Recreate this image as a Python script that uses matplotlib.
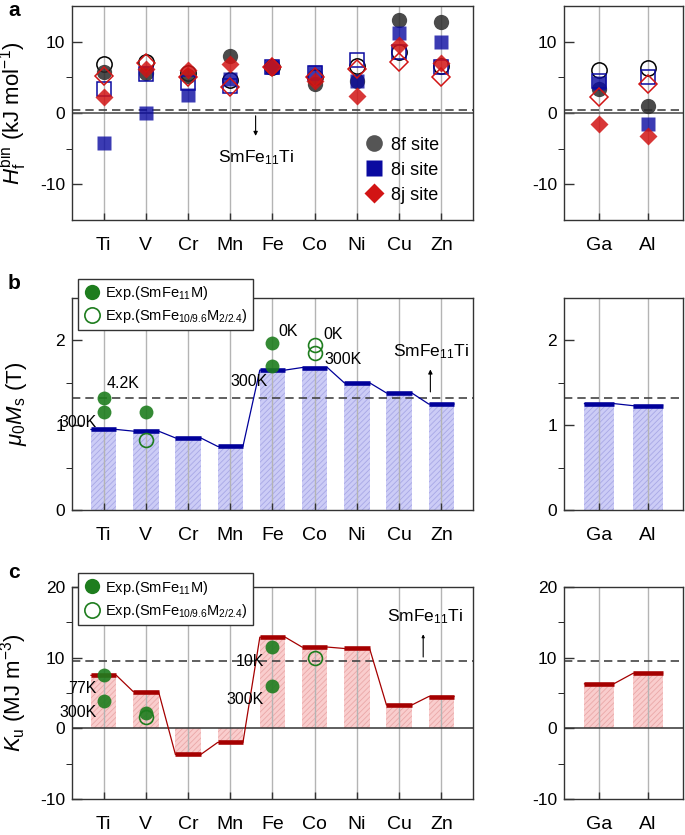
import matplotlib
matplotlib.use("Agg")
import matplotlib.pyplot as plt
import numpy as np
from matplotlib.lines import Line2D

plt.rcParams["font.family"] = ["Liberation Sans", "DejaVu Sans"]
plt.rcParams["mathtext.fontset"] = "custom"
plt.rcParams["mathtext.rm"] = "Liberation Sans"
plt.rcParams["mathtext.it"] = "Liberation Sans:italic"
plt.rcParams["axes.unicode_minus"] = False
plt.rcParams["hatch.linewidth"] = 0.6

# ---- data ----
metals = ["Ti", "V", "Cr", "Mn", "Fe", "Co", "Ni", "Cu", "Zn"]
extra = ["Ga", "Al"]

# formation enthalpy (kJ/mol): filled / open markers per site
h_8f = [5.8, 5.6, 5.2, 8.0, 6.5, 4.0, 4.5, 13.1, 12.7]
h_8i = [-4.2, 0.0, 2.5, 4.7, 6.5, 5.8, 4.5, 11.2, 9.9]
h_8j = [2.3, 6.2, 6.0, 6.9, 6.5, 4.5, 2.4, 9.6, 7.0]
h_8f_open = [6.8, 7.2, 5.6, 4.6, 6.5, 5.0, 6.6, 8.6, 6.6]
h_8i_open = [3.4, 5.4, 4.2, 3.8, 6.5, 5.6, 7.4, 8.5, 6.5]
h_8j_open = [5.2, 7.0, 5.1, 3.7, 6.5, 5.1, 6.1, 7.2, 5.0]
h_8f_x = [3.4, 1.0]
h_8i_x = [4.2, -1.5]
h_8j_x = [-1.5, -3.2]
h_8f_open_x = [6.0, 6.3]
h_8i_open_x = [4.5, 5.0]
h_8j_open_x = [2.3, 4.1]
h_ref = 0.4

# magnetisation (T)
ms = [0.95, 0.93, 0.85, 0.75, 1.65, 1.68, 1.50, 1.38, 1.25]
ms_x = [1.255, 1.23]
ms_ref = 1.325
ms_exp_idx = [0, 0, 1, 4, 4]
ms_exp = [1.32, 1.16, 1.16, 1.97, 1.70]
ms_exp2_idx = [1, 5, 5]
ms_exp2 = [0.82, 1.95, 1.85]

# anisotropy (MJ/m3)
ku = [7.5, 5.2, -3.7, -2.0, 12.9, 11.5, 11.3, 3.3, 4.5]
ku_x = [6.3, 7.8]
ku_ref = 9.5
ku_exp_idx = [0, 0, 1, 4, 4]
ku_exp = [7.5, 3.8, 2.2, 11.5, 6.0]
ku_exp2_idx = [1, 5]
ku_exp2 = [1.6, 10.0]

# ---- styling ----
grey = "#b4b4b4"
c8f, c8i, c8j = "#2b2b2b", "#0a0aa0", "#d21414"
green = "#1e7d1e"

fig = plt.figure(figsize=(6.85, 8.35), dpi=100)
W, H = 685, 835


def make_axes(left_px, top_px, w_px, h_px):
    return fig.add_axes([left_px / W, 1 - (top_px + h_px) / H, w_px / W, h_px / H])


def style(ax, n, ylim, major, minor, labels):
    ax.set_xlim(-0.75, n - 0.25) if n > 2 else ax.set_xlim(-0.72, 1.72)
    ax.set_ylim(*ylim)
    ax.set_xticks(range(n))
    ax.set_xticklabels(labels, fontsize=14)
    ax.set_yticks(major)
    ax.set_yticks(minor, minor=True)
    ax.tick_params(axis="both", direction="in", labelsize=12.5, width=1, color="#333333")
    ax.tick_params(axis="x", length=5, pad=12, labelsize=14)
    ax.tick_params(axis="y", which="major", length=7, pad=5)
    ax.tick_params(axis="y", which="minor", length=4)
    for s in ax.spines.values():
        s.set_color("#333333")
        s.set_linewidth(1)
    for i in range(n):
        ax.axvline(i, color=grey, lw=1, zorder=1.5)


def bars(ax, vals, face, hatch_c, cap_c, cap_lw):
    x = np.arange(len(vals))
    ax.bar(x, vals, width=0.6, color=face, edgecolor=hatch_c, linewidth=0,
           hatch="//////", zorder=1)
    ax.hlines(vals, x - 0.3, x + 0.3, color=cap_c, lw=cap_lw, zorder=3)
    xs = np.ravel(np.column_stack([x - 0.3, x + 0.3]))
    ys = np.repeat(vals, 2)
    ax.plot(xs, ys, color=cap_c, lw=0.9, zorder=2.5)


# ---------- panel a ----------
axa = make_axes(72, 6, 401, 214)
axa2 = make_axes(564, 6, 119, 214)
for ax, n, labs, f, i_, j_, fo, io, jo in [
    (axa, 9, metals, h_8f, h_8i, h_8j, h_8f_open, h_8i_open, h_8j_open),
    (axa2, 2, extra, h_8f_x, h_8i_x, h_8j_x, h_8f_open_x, h_8i_open_x, h_8j_open_x),
]:
    style(ax, n, (-15, 15), [-10, 0, 10], [-5, 5], labs)
    x = np.arange(n)
    ax.axhline(0, color="#555555", lw=1.2, zorder=1.6)
    ax.axhline(h_ref, color="#444444", lw=1.2, ls=(0, (5, 3)), zorder=1.6)
    ax.plot(x, fo, "o", ms=11, mfc="none", mec="black", mew=1.1, zorder=3)
    ax.plot(x, f, "o", ms=11, color=c8f, alpha=0.85, mec="none", zorder=3)
    ax.plot(x, io, "s", ms=10, mfc="none", mec=c8i, mew=1.1, zorder=4)
    ax.plot(x, i_, "s", ms=10, color=c8i, alpha=0.8, mec="none", zorder=4)
    ax.plot(x, jo, "D", ms=9, mfc="none", mec=c8j, mew=1.1, zorder=5)
    ax.plot(x, j_, "D", ms=9, color=c8j, alpha=0.85, mec="none", zorder=5)

axa.set_ylabel(r"$H_\mathrm{f}^\mathrm{bin}$ (kJ mol$^{-1}$)", fontsize=16)
axa.yaxis.set_label_coords(-0.108, 0.5)
axa.annotate("", xy=(3.6, -3.6), xytext=(3.6, 0),
             arrowprops=dict(arrowstyle="-|>", lw=0.8, color="black", mutation_scale=6))
axa.text(3.6, -6.2, r"SmFe$_{11}$Ti", ha="center", va="center", fontsize=12.5)
leg_a = [
    Line2D([], [], marker="o", ls="", ms=12, color=c8f, alpha=0.8, mec="none"),
    Line2D([], [], marker="s", ls="", ms=11, color=c8i, mec="none"),
    Line2D([], [], marker="D", ls="", ms=10, color=c8j, mec="none"),
]
axa.legend(leg_a, ["8f site", "8i site", "8j site"], loc="lower right",
           bbox_to_anchor=(0.955, 0.0), frameon=False, fontsize=13,
           handletextpad=0.3, labelspacing=0.45, handlelength=1.2)

# ---------- panel b ----------
axb = make_axes(72, 298, 401, 212)
axb2 = make_axes(564, 298, 119, 212)
for ax, n, labs, vals in [(axb, 9, metals, ms), (axb2, 2, extra, ms_x)]:
    style(ax, n, (0, 2.5), [0, 1, 2], [0.5, 1.5], labs)
    bars(ax, vals, "#ccccf6", "#a8a8e6", "#00009a", 3.3)
    ax.axhline(ms_ref, color="#444444", lw=1.2, ls=(0, (5, 3)), zorder=1.6)

axb.plot(ms_exp_idx, ms_exp, "o", ms=10, color=green, alpha=0.9, mec="none", zorder=6)
axb.plot(ms_exp2_idx, ms_exp2, "o", ms=10, mfc="none", mec=green, mew=1.2, zorder=6)
axb.set_ylabel(r"$\mu_0M_\mathrm{s}$ (T)", fontsize=16)
axb.yaxis.set_label_coords(-0.108, 0.5)
for tx, ty, s, ha in [(0.07, 1.49, "4.2K", "left"), (-0.17, 1.03, "300K", "right"),
                      (4.14, 2.11, "0K", "left"), (3.88, 1.51, "300K", "right"),
                      (5.21, 2.07, "0K", "left"), (5.24, 1.78, "300K", "left")]:
    axb.text(tx, ty, s, ha=ha, va="center", fontsize=11.5, zorder=7)
axb.annotate("", xy=(7.74, 1.69), xytext=(7.74, 1.36),
             arrowprops=dict(arrowstyle="-|>", lw=0.8, color="black", mutation_scale=6))
axb.text(7.76, 1.87, r"SmFe$_{11}$Ti", ha="center", va="center", fontsize=12.5)
leg_exp = [
    Line2D([], [], marker="o", ls="", ms=11, color=green, mec="none"),
    Line2D([], [], marker="o", ls="", ms=11, mfc="none", mec=green, mew=1.2),
]
exp_labels = [r"Exp.(SmFe$_{11}$M)", r"Exp.(SmFe$_{10/9.6}$M$_{2/2.4}$)"]
lb = axb.legend(leg_exp, exp_labels, loc="upper left", bbox_to_anchor=(0.015, 1.09),
                borderaxespad=0, fontsize=10.5, fancybox=False, edgecolor="#333333",
                framealpha=1, handletextpad=0.3, handlelength=1.2, borderpad=0.35,
                labelspacing=0.35)
lb.set_zorder(10)

# ---------- panel c ----------
axc = make_axes(72, 587, 401, 212)
axc2 = make_axes(564, 587, 119, 212)
for ax, n, labs, vals in [(axc, 9, metals, ku), (axc2, 2, extra, ku_x)]:
    style(ax, n, (-10, 20), [-10, 0, 10, 20], [-5, 5, 15], labs)
    bars(ax, vals, "#f9cdcd", "#eaa8a8", "#a50000", 3.3)
    ax.axhline(0, color="#333333", lw=1.1, zorder=1.6)
    ax.axhline(ku_ref, color="#444444", lw=1.2, ls=(0, (5, 3)), zorder=1.6)

axc.plot(ku_exp_idx, ku_exp, "o", ms=10, color=green, alpha=0.9, mec="none", zorder=6)
axc.plot(ku_exp2_idx, ku_exp2, "o", ms=10, mfc="none", mec=green, mew=1.2, zorder=6)
axc.set_ylabel(r"$K_\mathrm{u}$ (MJ m$^{-3}$)", fontsize=16)
axc.yaxis.set_label_coords(-0.108, 0.5)
for tx, ty, s in [(-0.17, 5.6, "77K"), (-0.17, 2.3, "300K"),
                  (3.79, 9.5, "10K"), (3.79, 4.1, "300K")]:
    axc.text(tx, ty, s, ha="right", va="center", fontsize=11.5, zorder=7)
axc.annotate("", xy=(7.57, 13.7), xytext=(7.57, 9.7),
             arrowprops=dict(arrowstyle="-|>", lw=0.8, color="black", mutation_scale=4))
axc.text(7.6, 15.8, r"SmFe$_{11}$Ti", ha="center", va="center", fontsize=12.5)
lc = axc.legend(leg_exp, exp_labels, loc="upper left", bbox_to_anchor=(0.015, 1.064),
                borderaxespad=0, fontsize=10.5, fancybox=False, edgecolor="#333333",
                framealpha=1, handletextpad=0.3, handlelength=1.2, borderpad=0.35,
                labelspacing=0.35)
lc.set_zorder(10)

# panel letters
for lab, ypx in [("a", 10), ("b", 283), ("c", 572)]:
    fig.text(8 / W, 1 - ypx / H, lab, fontsize=15, fontweight="bold", va="center")

fig.savefig("out.png", dpi=100)
